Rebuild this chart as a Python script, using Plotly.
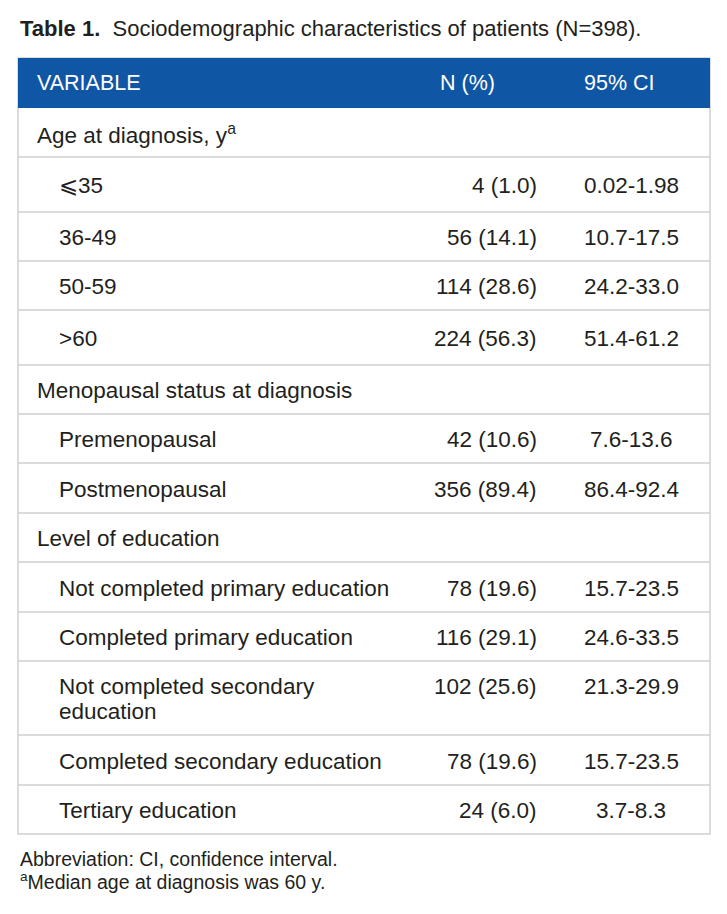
import plotly.graph_objects as go

# ---- data ----
title_bold = "Table 1."
title_rest = "Sociodemographic characteristics of patients (N=398)."
headers = ["VARIABLE", "N (%)", "95% CI"]
labels = ["Age at diagnosis, y<sup>a</sup>", "⩽35", "36-49", "50-59", ">60",
          "Menopausal status at diagnosis", "Premenopausal", "Postmenopausal",
          "Level of education", "Not completed primary education",
          "Completed primary education", "Not completed secondary<br>education",
          "Completed secondary education", "Tertiary education"]
is_section = [True, False, False, False, False, True, False, False, True,
              False, False, False, False, False]
counts = [None, 4, 56, 114, 224, None, 42, 356, None, 78, 116, 102, 78, 24]
percents = [None, 1.0, 14.1, 28.6, 56.3, None, 10.6, 89.4, None, 19.6, 29.1, 25.6, 19.6, 6.0]
ci_text = [None, "0.02-1.98", "10.7-17.5", "24.2-33.0", "51.4-61.2", None,
           "7.6-13.6", "86.4-92.4", None, "15.7-23.5", "24.6-33.5", "21.3-29.9",
           "15.7-23.5", "3.7-8.3"]
footnotes = ["Abbreviation: CI, confidence interval.",
             "<sup>a</sup>Median age at diagnosis was 60 y."]

# ---- layout ----
W, H = 727, 914
BODY_MARGIN = 8  # default page margin around the plot div
FONT = "Liberation Sans, Arial, Helvetica, sans-serif"
TXT = "#231f20"
BLUE = "#0f56a5"
GRID = "#cfcfcf"
x0, x1 = 18, 710
head_top, head_bot = 58, 108
row_h = [49, 55, 49, 49, 55, 49, 49, 50, 49, 50, 49, 74, 50, 49]
fs = 22.5
fs_head = 21.5
fs_title = 22
fs_foot = 19.5
line_gap = 25

fig = go.Figure()
fig.add_trace(go.Scatter(x=[BODY_MARGIN, W], y=[BODY_MARGIN, H], mode="markers",
                         marker=dict(opacity=0), hoverinfo="skip", showlegend=False))

shapes = []
annotations = []


def txt(x, y, text, anchor="left", size=fs, color=TXT):
    annotations.append(dict(x=x, y=y, text=text, xanchor=anchor, yanchor="middle",
                            align=anchor if anchor != "center" else "center",
                            font=dict(color=color, size=size, family=FONT),
                            showarrow=False))


# header
shapes.append(dict(type="rect", x0=x0, x1=x1, y0=head_top, y1=head_bot,
                   fillcolor=BLUE, line=dict(width=0), layer="above"))
hy = (head_top + head_bot) / 2
txt(35, hy, headers[0], size=fs_head, color="white")
txt(438, hy, headers[1], size=fs_head, color="white")
txt(582, hy, headers[2], size=fs_head, color="white")

# rows
y = head_bot
for i, lab in enumerate(labels):
    top, bot = y, y + row_h[i]
    cy = (top + bot) / 2 + 1
    lx = 35 if is_section[i] else 57
    parts = lab.split("<br>")
    if len(parts) > 1:
        ty = cy - line_gap * (len(parts) - 1) / 2
        for k, p in enumerate(parts):
            txt(lx, ty + k * line_gap, p)
    else:
        ty = cy
        txt(lx, cy, lab)
    if counts[i] is not None:
        txt(539, ty, f"{counts[i]} ({percents[i]:.1f})", anchor="right")
        txt(631, ty, ci_text[i], anchor="center")
    if i < len(labels) - 1:
        shapes.append(dict(type="line", x0=x0, x1=x1, y0=bot, y1=bot,
                           line=dict(color=GRID, width=1.5)))
    y = bot

# outer border
shapes.append(dict(type="rect", x0=x0, x1=x1, y0=head_top, y1=y,
                   line=dict(color=GRID, width=1.5), layer="below"))

# title
txt(18, 28, f"<b>{title_bold}</b>  {title_rest}", size=fs_title)
# footnotes
txt(18, 859, footnotes[0], size=fs_foot)
txt(18, 881, footnotes[1], size=fs_foot)

fig.update_layout(width=W - BODY_MARGIN, height=H - BODY_MARGIN,
                  margin=dict(l=0, r=0, t=0, b=0),
                  paper_bgcolor="white", plot_bgcolor="white",
                  xaxis=dict(range=[BODY_MARGIN, W], visible=False, fixedrange=True),
                  yaxis=dict(range=[H, BODY_MARGIN], visible=False, fixedrange=True),
                  shapes=shapes, annotations=annotations, showlegend=False)
fig.write_html("out.html")
